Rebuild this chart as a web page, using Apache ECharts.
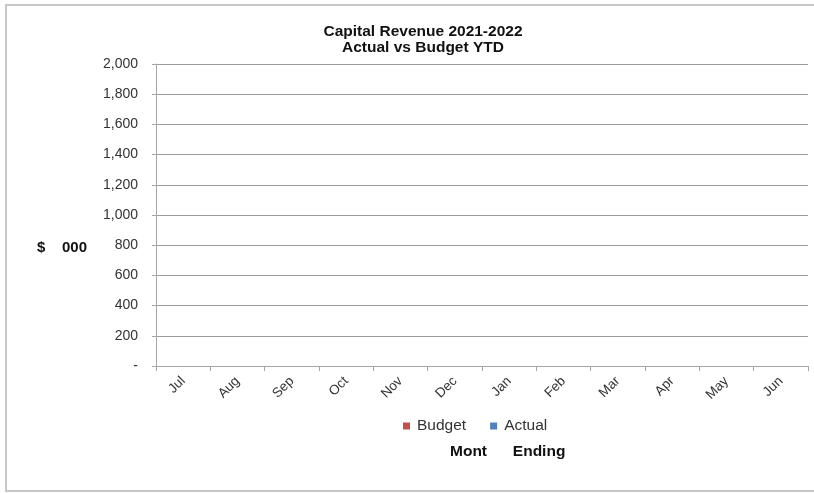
<!DOCTYPE html>
<html>
<head>
<meta charset="utf-8">
<style>
  html, body { margin: 0; padding: 0; background: #fff; }
  #chart { width: 814px; height: 493px; }
</style>
<script src="https://cdn.jsdelivr.net/npm/echarts@6/dist/echarts.min.js"></script>
</head>
<body>
<div id="chart"></div>
<script>
// Months of the financial year
const months = ['Jul', 'Aug', 'Sep', 'Oct', 'Nov', 'Dec', 'Jan', 'Feb', 'Mar', 'Apr', 'May', 'Jun'];
// Year-to-date capital revenue ($ 000) - no figures recorded yet
const budget = [null, null, null, null, null, null, null, null, null, null, null, null];
const actual = [null, null, null, null, null, null, null, null, null, null, null, null];
// Value axis range
const yMin = 0;
const yMax = 2000;
const yStep = 200;

const FONT = '"Liberation Sans", Arial, sans-serif';
const TEXT = '#333333';

const chart = echarts.init(document.getElementById('chart'), null, { renderer: 'canvas' });

chart.setOption({
  animation: false,
  backgroundColor: '#ffffff',
  title: {
    text: 'Capital Revenue 2021-2022\nActual vs Budget YTD',
    left: 418,
    top: 19,
    textAlign: 'center',
    textStyle: {
      fontFamily: FONT,
      fontSize: 15.5,
      fontWeight: 'bold',
      color: '#111111',
      lineHeight: 16
    }
  },
  legend: {
    data: ['Budget', 'Actual'],
    left: 398,
    top: 413,
    itemWidth: 7,
    itemHeight: 7,
    itemGap: 24,
    icon: 'rect',
    textStyle: { fontFamily: FONT, fontSize: 15.5, color: TEXT, padding: [0, 0, 0, 2] }
  },
  grid: { left: 156, right: 6, top: 64, bottom: 127, containLabel: false },
  xAxis: {
    type: 'category',
    data: months,
    boundaryGap: true,
    axisLine: { lineStyle: { color: '#a6a6a6', width: 1 } },
    axisTick: { show: true, alignWithLabel: false, length: 5, lineStyle: { color: '#a6a6a6' } },
    axisLabel: {
      rotate: 45,
      interval: 0,
      fontFamily: FONT,
      fontSize: 13.5,
      color: TEXT,
      margin: 13
    }
  },
  yAxis: {
    type: 'value',
    min: yMin,
    max: yMax,
    interval: yStep,
    axisLine: { show: true, lineStyle: { color: '#a6a6a6', width: 1 } },
    axisTick: { show: true, length: 4, lineStyle: { color: '#a6a6a6' } },
    splitLine: { show: true, lineStyle: { color: '#9a9a9a', width: 1 } },
    axisLabel: {
      fontFamily: FONT,
      fontSize: 14,
      color: TEXT,
      margin: 18,
      formatter: function (v) {
        return v === 0 ? '-' : v.toLocaleString('en-US');
      }
    }
  },
  series: [
    { name: 'Budget', type: 'bar', data: budget, itemStyle: { color: '#c0504d' } },
    { name: 'Actual', type: 'bar', data: actual, itemStyle: { color: '#4f81bd' } }
  ],
  graphic: [
    {
      type: 'rect',
      shape: { x: 6, y: 5, width: 820, height: 486 },
      style: { fill: 'none', stroke: '#c8c8c8', lineWidth: 2 },
      silent: true
    },
    {
      type: 'text',
      left: 37,
      top: 240,
      style: { text: '$    000', font: 'bold 15px ' + FONT, fill: '#111111' }
    },
    {
      type: 'text',
      left: 450,
      top: 444,
      style: { text: 'Mont      Ending', font: 'bold 15.5px ' + FONT, fill: '#111111' }
    }
  ]
});
</script>
</body>
</html>
